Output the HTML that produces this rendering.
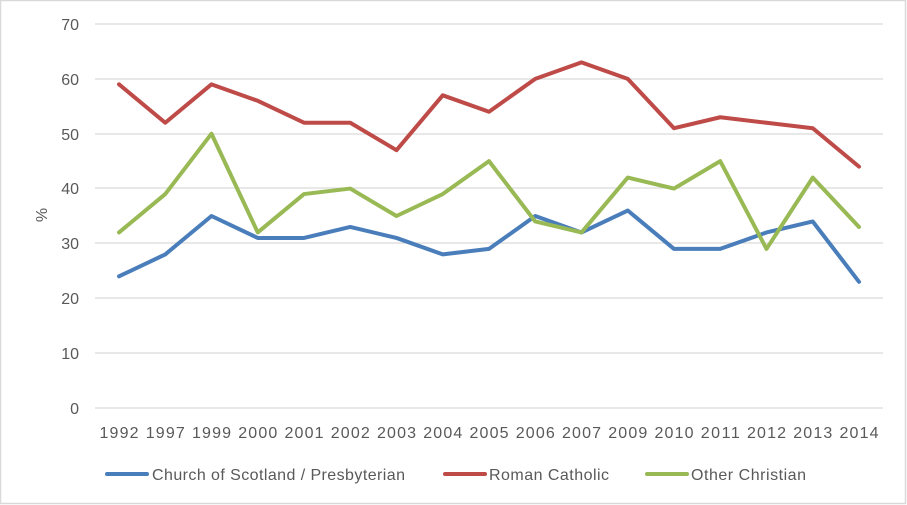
<!DOCTYPE html>
<html><head><meta charset="utf-8"><style>body{margin:0;background:#fff}svg{display:block}text{font-family:"Liberation Sans",sans-serif;fill:#595959;font-size:16px}</style></head>
<body>
<svg width="907" height="505" xmlns="http://www.w3.org/2000/svg">
<rect x="0.5" y="0.5" width="905" height="503" fill="#fff" stroke="#d9d9d9" stroke-width="1.5"/>
<g stroke="#d9d9d9" stroke-width="1.3">
<line x1="95" x2="883" y1="24" y2="24"/><line x1="95" x2="883" y1="79" y2="79"/><line x1="95" x2="883" y1="134" y2="134"/><line x1="95" x2="883" y1="188" y2="188"/><line x1="95" x2="883" y1="243" y2="243"/><line x1="95" x2="883" y1="298" y2="298"/><line x1="95" x2="883" y1="353" y2="353"/><line x1="95" x2="883" y1="408" y2="408"/>
</g>
<g text-anchor="end">
<text x="79" y="30">70</text><text x="79" y="85">60</text><text x="79" y="140">50</text><text x="79" y="194">40</text><text x="79" y="249">30</text><text x="79" y="304">20</text><text x="79" y="359">10</text><text x="79" y="414">0</text>
</g>
<text x="47" y="215" text-anchor="middle" transform="rotate(-90 47 215)">%</text>
<g text-anchor="middle" id="yrs"></g>
<g fill="none" stroke-width="4" stroke-linejoin="round" stroke-linecap="round">
<polyline id="b" stroke="#4A7EBB"/><polyline id="r" stroke="#BE4B48"/><polyline id="g" stroke="#98B954"/>
</g>
<line x1="107" x2="147" y1="474" y2="474" stroke="#4A7EBB" stroke-width="4" stroke-linecap="round"/>
<text x="152" y="480" textLength="253">Church of Scotland / Presbyterian</text>
<line x1="445" x2="485" y1="474" y2="474" stroke="#BE4B48" stroke-width="4" stroke-linecap="round"/>
<text x="489" y="480" textLength="120">Roman Catholic</text>
<line x1="647" x2="687" y1="474" y2="474" stroke="#98B954" stroke-width="4" stroke-linecap="round"/>
<text x="691" y="480" textLength="115">Other Christian</text>
</svg>
<script>
var yrs=[1992,1997,1999,2000,2001,2002,2003,2004,2005,2006,2007,2009,2010,2011,2012,2013,2014];
var B=[24,28,35,31,31,33,31,28,29,35,32,36,29,29,32,34,23];
var R=[59,52,59,56,52,52,47,57,54,60,63,60,51,53,52,51,44];
var G=[32,39,50,32,39,40,35,39,45,34,32,42,40,45,29,42,33];
function X(i){return 119+i*46.25} function Y(v){return 408-v*384/70}
var ns="http://www.w3.org/2000/svg",g=document.getElementById('yrs');
yrs.forEach(function(y,i){var t=document.createElementNS(ns,'text');t.setAttribute('x',X(i));t.setAttribute('y',438);t.setAttribute('textLength',39);t.textContent=y;g.appendChild(t);});
function pts(a){return a.map(function(v,i){return X(i)+','+Y(v)}).join(' ')}
document.getElementById('b').setAttribute('points',pts(B));
document.getElementById('r').setAttribute('points',pts(R));
document.getElementById('g').setAttribute('points',pts(G));
</script>
</body></html>
